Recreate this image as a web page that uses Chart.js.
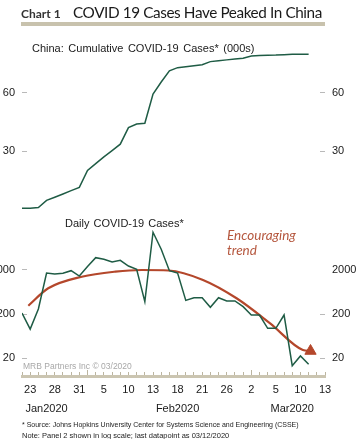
<!DOCTYPE html>
<html><head><meta charset="utf-8">
<script src="https://cdn.jsdelivr.net/npm/chart.js"></script>
<style>
html,body{margin:0;padding:0;background:#fff;width:357px;height:439px;overflow:hidden;}
#wrap{position:relative;width:357px;height:439px;}
canvas{position:absolute;left:0;top:0;}
.t{position:absolute;white-space:nowrap;line-height:1;}
</style></head><body>
<div id="wrap">
<canvas id="c" width="357" height="439"></canvas>
<div class="t" style="left:21px;top:5.5px;font:bold 12px Lato,sans-serif;color:#333;">Chart 1</div>
<div class="t" style="left:73px;top:3.2px;font:15.3px Lato,sans-serif;color:#1a1a1a;letter-spacing:-0.4px;">COVID 19 Cases Have Peaked In China</div>
<div style="position:absolute;left:21px;top:22px;width:304px;height:3.5px;background:#c8c2ad;"></div>
<div class="t" style="left:32px;top:41.6px;font:11px 'Liberation Sans',Arial,sans-serif;color:#1a1a1a;word-spacing:1.5px;">China: Cumulative COVID-19 Cases* (000s)</div>
<div class="t" style="left:65px;top:216.6px;font:11px 'Liberation Sans',Arial,sans-serif;color:#1a1a1a;word-spacing:1px;">Daily COVID-19 Cases*</div>
<div class="t" style="left:227px;top:228.3px;font:italic 13.5px Lato,sans-serif;color:#b5573e;line-height:14.3px;">Encouraging<br>trend</div>
<div class="t" style="left:23px;top:360.5px;font:8.5px 'Liberation Sans',Arial,sans-serif;color:#a8a8a8;">MRB Partners Inc © 03/2020</div>
<div class="t" style="left:22px;top:420.5px;font:7px 'Liberation Sans',Arial,sans-serif;color:#222;">* Source: Johns Hopkins University Center for Systems Science and Engineering (CSSE)</div>
<div class="t" style="left:22px;top:431px;font:7.5px 'Liberation Sans',Arial,sans-serif;color:#222;">Note: Panel 2 shown in log scale; last datapoint as 03/12/2020</div>
</div>
<script>
// Business-day categories shown on the x axis
const businessDays = ["2020-01-22","2020-01-23","2020-01-24","2020-01-27","2020-01-28","2020-01-29","2020-01-30","2020-01-31",
"2020-02-03","2020-02-04","2020-02-05","2020-02-06","2020-02-07",
"2020-02-10","2020-02-11","2020-02-12","2020-02-13","2020-02-14",
"2020-02-17","2020-02-18","2020-02-19","2020-02-20","2020-02-21",
"2020-02-24","2020-02-25","2020-02-26","2020-02-27","2020-02-28",
"2020-03-02","2020-03-03","2020-03-04","2020-03-05","2020-03-06",
"2020-03-09","2020-03-10","2020-03-11","2020-03-12","2020-03-13"];

// China cumulative confirmed cases (000s)
const cumulativeCases = [0.6,0.6,0.9,4.6,6.2,7.9,9.6,11.3,20.0,23.5,27.0,30.2,33.5,42.0,43.9,44.3,59.3,65.5,71.3,72.9,73.4,73.9,74.4,76.0,76.5,76.9,77.3,77.7,78.9,79.1,79.3,79.4,79.6,79.8,79.8,79.8];

// Daily new cases (log scale panel)
const dailyCases = [213,92,262,1710,1620,1690,1930,1460,2400,3800,3490,3030,3310,2460,2070,384,14260,5880,1930,1710,410,472,472,286,472,400,400,296,192,192,96,96,192,13.7,22.7,14.7];

// "Encouraging trend" arrow (business-day position, value)
const trendPos = [0.77,3.2,7.3,11.4,14.6,17.9,22.1,26.2,30.3,34.3,35.23];
const trendVals = [311,771,1410,1840,2000,1950,1190,458,124,31,29.4];

// Tick labels
const cumTicks = [30, 60];
const dailyTicks = [20, 200, 2000];
const dayTickLabels = ["23","28","31","5","10","13","18","21","26","2","5","10","13"];
const monthTickLabels = ["Jan2020","Feb2020","Mar2020"];
const monthTickPos = [3, 19, 33];
const monthStartPos = [8, 28];

const green = '#1f5c45';
const trendColor = '#b4472b';

const tickFont = {family: "'Liberation Sans', Arial, sans-serif", size: 11};

function fixedTicks(list){ return (scale) => { scale.ticks = list.map(v => ({value: v})); }; }

const yCommon = {
  border: {display: false},
  grid: {drawOnChartArea: false, drawTicks: true, tickLength: -5, tickColor: '#b9b9b9', tickWidth: 1},
  ticks: {font: tickFont, color: '#1a1a1a', padding: 12}
};

const chart = new Chart(document.getElementById('c'), {
  type: 'line',
  data: {
    datasets: [
      {
        label: 'Cumulative',
        data: cumulativeCases.map((v, i) => ({x: i, y: v})),
        yAxisID: 'yTop', borderColor: green, borderWidth: 1.5, pointRadius: 0, tension: 0
      },
      {
        label: 'Daily',
        data: dailyCases.map((v, i) => ({x: i, y: v})),
        yAxisID: 'yBot', borderColor: green, borderWidth: 1.5, pointRadius: 0, tension: 0
      },
      {
        label: 'Trend',
        data: trendPos.map((p, i) => ({x: p, y: trendVals[i]})),
        yAxisID: 'yBot', borderColor: trendColor, borderWidth: 2.2, cubicInterpolationMode: 'monotone',
        pointRadius: trendPos.map((p, i) => i === trendPos.length - 1 ? 6.5 : 0),
        pointStyle: 'triangle', pointRotation: 120,
        pointBackgroundColor: trendColor, pointBorderColor: trendColor, pointBorderWidth: 1
      }
    ]
  },
  options: {
    responsive: false,
    devicePixelRatio: 1,
    animation: false,
    events: [],
    layout: {padding: {top: 40, bottom: 18, left: 0, right: 0}},
    plugins: {legend: {display: false}, tooltip: {enabled: false}},
    scales: {
      x: {
        type: 'linear', min: 0, max: businessDays.length - 1,
        border: {display: true, color: '#cbc5b1', width: 3},
        grid: {
          drawOnChartArea: false, drawTicks: true, tickLength: -6, tickWidth: 1,
          tickColor: '#bcb5a0',
          tickBorderDash: (ctx) => monthStartPos.includes(ctx.tick && ctx.tick.value) ? [] : [6, 30]
        },
        ticks: {
          stepSize: 1, autoSkip: false, maxRotation: 0, padding: 10.5,
          font: {family: "'Liberation Sans', Arial, sans-serif", size: 11, lineHeight: '19px'},
          color: '#1a1a1a',
          callback: (v) => {
            const i = Math.round(v);
            const day = (i - 1) % 3 === 0 && i >= 1 ? dayTickLabels[(i - 1) / 3] : '';
            const m = monthTickPos.indexOf(i);
            const mon = m >= 0 ? monthTickLabels[m] : '';
            return mon ? [day, mon] : day;
          }
        },
        afterFit: (s) => { s.height = 45; }
      },
      yBot: Object.assign({}, yCommon, {
        type: 'logarithmic', position: 'left', stack: 'L', stackWeight: 160,
        min: 8, max: 33300, afterBuildTicks: fixedTicks(dailyTicks),
        afterFit: (s) => { s.width = 22; },
        ticks: Object.assign({}, yCommon.ticks, {callback: (v) => String(v)})
      }),
      yTop: Object.assign({}, yCommon, {
        type: 'linear', position: 'left', stack: 'L', stackWeight: 176,
        min: -3.45, max: 87.13, afterBuildTicks: fixedTicks(cumTicks),
        afterFit: (s) => { s.width = 22; }
      }),
      yTopR: Object.assign({}, yCommon, {
        type: 'linear', position: 'right', stack: 'R', stackWeight: 176,
        min: -3.45, max: 87.13, afterBuildTicks: fixedTicks(cumTicks),
        afterFit: (s) => { s.width = 32; }
      }),
      yBotR: Object.assign({}, yCommon, {
        type: 'logarithmic', position: 'right', stack: 'R', stackWeight: 160,
        min: 8, max: 33300, afterBuildTicks: fixedTicks(dailyTicks),
        afterFit: (s) => { s.width = 32; },
        grid: Object.assign({}, yCommon.grid, {tickColor: (ctx) => (ctx.tick && ctx.tick.value === 2000) ? 'rgba(0,0,0,0)' : '#b9b9b9'}),
        ticks: Object.assign({}, yCommon.ticks, {callback: (v) => String(v)})
      })
    }
  }
});
</script>
</body></html>
